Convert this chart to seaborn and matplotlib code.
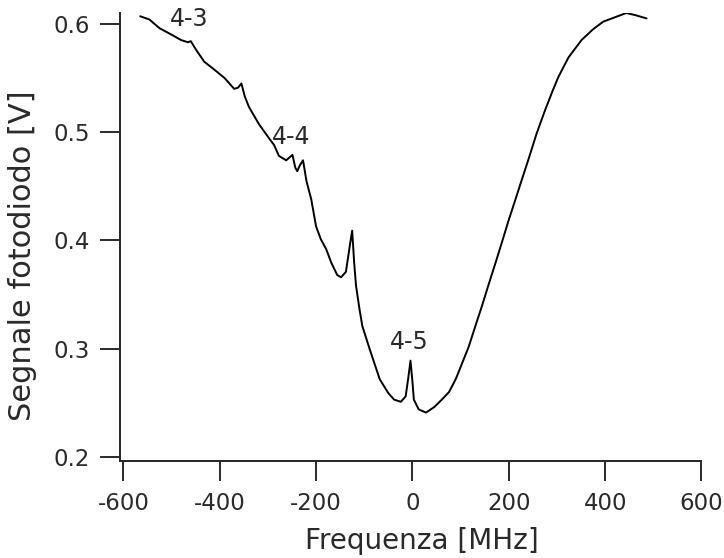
import numpy as np
import pandas as pd
import matplotlib
matplotlib.use("Agg")
import matplotlib.pyplot as plt
import seaborn as sns

# spettro di assorbimento
freq = [-565, -546, -525, -500, -480, -466, -460, -449, -432, -412, -390, -370,
        -362, -355, -348, -339, -318, -297, -287, -277, -262, -249, -243, -239,
        -234, -227, -220, -210, -200, -190, -179, -168, -156, -148, -138, -130,
        -125, -121, -117, -110, -104, -89, -68, -50, -38, -24, -14, -8, -4, 0,
        3, 13, 28, 45, 61, 76, 90, 100, 117, 130, 144, 158, 173, 187, 200, 214,
        227, 241, 258, 276, 290, 303, 324, 351, 375, 396, 420, 444, 463, 486]
segnale = [0.607, 0.604, 0.596, 0.590, 0.585, 0.583, 0.584, 0.576, 0.565, 0.558,
           0.550, 0.540, 0.541, 0.545, 0.533, 0.523, 0.507, 0.494, 0.488, 0.478,
           0.474, 0.479, 0.467, 0.464, 0.469, 0.474, 0.455, 0.438, 0.413, 0.401,
           0.392, 0.379, 0.368, 0.366, 0.371, 0.395, 0.409, 0.380, 0.358, 0.337,
           0.321, 0.300, 0.272, 0.259, 0.253, 0.251, 0.256, 0.275, 0.289, 0.270,
           0.253, 0.244, 0.241, 0.246, 0.253, 0.260, 0.272, 0.283, 0.302, 0.320,
           0.339, 0.359, 0.380, 0.400, 0.419, 0.438, 0.456, 0.475, 0.499, 0.521,
           0.537, 0.551, 0.569, 0.585, 0.595, 0.602, 0.606, 0.610, 0.608, 0.605]

# etichette delle transizioni
trans_labels = ["4-3", "4-4", "4-5"]
trans_x = [-463, -251, -6]
trans_y = [0.6046, 0.4954, 0.306]

xticks = [-600, -400, -200, 0, 200, 400, 600]
yticks = [0.2, 0.3, 0.4, 0.5, 0.6]

df = pd.DataFrame({"freq": freq, "segnale": segnale})

sns.set_style("ticks")
plt.rcParams["font.family"] = ["DejaVu Sans"]
txt_col = "#2a2a2a"

fig = plt.figure(figsize=(7.24, 5.58), dpi=100)
ax = fig.add_axes([0.1657, 0.1738, 0.8032, 0.8029])

sns.lineplot(data=df, x="freq", y="segnale", color="black", linewidth=1.4, ax=ax)

for lab, tx, ty in zip(trans_labels, trans_x, trans_y):
    ax.text(tx, ty, lab, ha="center", va="center", fontsize=17, color=txt_col)

ax.set_xlim(-607, 600)
ax.set_ylim(0.1963, 0.610)
ax.set_xticks(xticks)
ax.set_xticklabels([str(t) for t in xticks])
ax.set_yticks(yticks)
ax.set_yticklabels([f"{t:.1f}" for t in yticks])

sns.despine(ax=ax)
ax.spines["left"].set_linewidth(1.4)
ax.spines["bottom"].set_linewidth(1.4)
ax.tick_params(axis="x", length=14.5, width=1.4, labelsize=16.5, pad=8, colors=txt_col)
ax.tick_params(axis="y", length=14.5, width=1.4, labelsize=16.5, pad=7, colors=txt_col)

ax.set_xlabel("Frequenza [MHz]", fontsize=20, color=txt_col)
ax.set_ylabel("Segnale fotodiodo [V]", fontsize=22, color=txt_col)
ax.xaxis.label.set_va("center")
ax.yaxis.label.set_va("center")
ax.xaxis.set_label_coords(0.519, -0.1786)
ax.yaxis.set_label_coords(-0.1668, 0.4576)

fig.savefig("out.png", dpi=100)
